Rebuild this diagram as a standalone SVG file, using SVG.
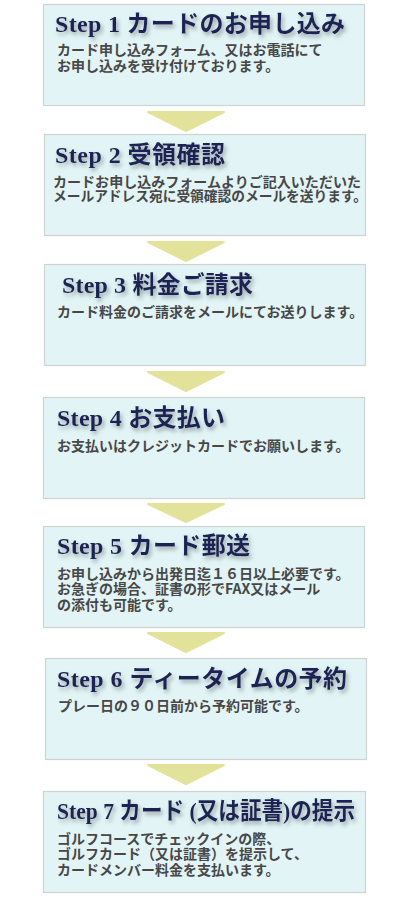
<svg xmlns="http://www.w3.org/2000/svg" width="400" height="900" viewBox="0 0 400 900">
<defs>
<filter id="tshadow" x="-10%" y="-30%" width="130%" height="180%">
<feDropShadow dx="2" dy="3" stdDeviation="2.2" flood-color="#7f8a90" flood-opacity="0.75"/>
</filter>
<style>
.box{fill:#e2f4f5;stroke:#cfd3d4;stroke-width:1.2}
.title{font-family:"Liberation Serif","Noto Sans CJK JP",serif;font-size:24px;font-weight:bold;fill:#1c2454;filter:url(#tshadow)}
.body{font-family:"Noto Sans CJK JP","Liberation Sans",sans-serif;font-size:14px;font-weight:bold;fill:#474747}
.arrow{fill:#e3e29b;stroke:#e3e29b;stroke-width:2;stroke-linejoin:round}
</style>
</defs>
<rect width="400" height="900" fill="#ffffff"/>
<g id="connectors">
<path class="arrow" d="M148,112 L224,112 L186,131 Z"/>
<path class="arrow" d="M148,242 L224,242 L186,261 Z"/>
<path class="arrow" d="M148,372 L224,372 L186,391 Z"/>
<path class="arrow" d="M148,504 L224,504 L186,522 Z"/>
<path class="arrow" d="M148,633 L224,633 L186,652 Z"/>
<path class="arrow" d="M148,765 L224,765 L186,784 Z"/>
</g>
<g id="step1">
<rect class="box" x="43.5" y="4.5" width="321" height="101"/>
<text class="title" x="55" y="32" textLength="290" lengthAdjust="spacing">Step 1 カードのお申し込み</text>
<text class="body" x="57" y="55">カード申し込みフォーム、又はお電話にて</text>
<text class="body" x="57" y="71">お申し込みを受け付けております。</text>
</g>
<g id="step2">
<rect class="box" x="44.5" y="134.5" width="321" height="101"/>
<text class="title" x="55" y="163" textLength="170" lengthAdjust="spacing">Step 2 受領確認</text>
<text class="body" x="53" y="187" textLength="308" lengthAdjust="spacingAndGlyphs">カードお申し込みフォームよりご記入いただいた</text>
<text class="body" x="53" y="201" textLength="314" lengthAdjust="spacingAndGlyphs">メールアドレス宛に受領確認のメールを送ります。</text>
</g>
<g id="step3">
<rect class="box" x="44.5" y="264.5" width="321" height="101"/>
<text class="title" x="62" y="293" textLength="191" lengthAdjust="spacing">Step 3 料金ご請求</text>
<text class="body" x="57" y="317">カード料金のご請求をメールにてお送りします。</text>
</g>
<g id="step4">
<rect class="box" x="43.5" y="397.5" width="321" height="101"/>
<text class="title" x="57" y="426" textLength="168" lengthAdjust="spacing">Step 4 お支払い</text>
<text class="body" x="57" y="451">お支払いはクレジットカードでお願いします。</text>
</g>
<g id="step5">
<rect class="box" x="43.5" y="526.5" width="321" height="101"/>
<text class="title" x="57" y="554" textLength="193" lengthAdjust="spacing">Step 5 カード郵送</text>
<text class="body" x="57" y="579">お申し込みから出発日迄１６日以上必要です。</text>
<text class="body" x="57" y="594">お急ぎの場合、証書の形でFAX又はメール</text>
<text class="body" x="57" y="610">の添付も可能です。</text>
</g>
<g id="step6">
<rect class="box" x="45.5" y="658.5" width="321" height="101"/>
<text class="title" x="57" y="687" textLength="290" lengthAdjust="spacing">Step 6 ティータイムの予約</text>
<text class="body" x="58" y="711">プレー日の９０日前から予約可能です。</text>
</g>
<g id="step7">
<rect class="box" x="43.5" y="791.5" width="322" height="101"/>
<text class="title" x="57" y="819" textLength="298" lengthAdjust="spacingAndGlyphs">Step 7 カード (又は証書)の提示</text>
<text class="body" x="57" y="844">ゴルフコースでチェックインの際、</text>
<text class="body" x="57" y="859">ゴルフカード（又は証書）を提示して、</text>
<text class="body" x="57" y="875">カードメンバー料金を支払います。</text>
</g>
</svg>
